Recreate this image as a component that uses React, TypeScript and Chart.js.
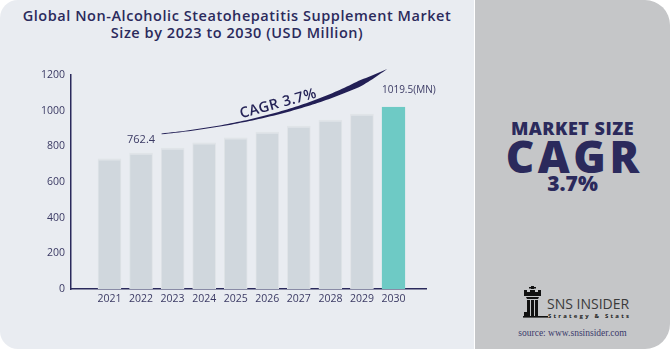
import React, { useEffect, useRef } from "react";
import { Chart, registerables } from "chart.js";

Chart.register(...registerables);

const years = [2021, 2022, 2023, 2024, 2025, 2026, 2027, 2028, 2029, 2030];
const marketValues = [730, 762.4, 790, 819, 848, 880, 913, 947, 981, 1019.5];
const valueLabels = ["", "762.4", "", "", "", "", "", "", "", "1019.5(MN)"];
const yTickValues = [0, 200, 400, 600, 800, 1000, 1200];
const titleLines = [
  "Global Non-Alcoholic Steatohepatitis Supplement Market",
  "Size by 2023 to 2030 (USD Million)",
];
const cagrLabel = "CAGR 3.7%";
// CAGR swoosh anchor points in data coordinates [year, value]
const cagrArrowFrom = [2022.65, 870];
const cagrArrowCtrl = [2027.05, 948];
const cagrArrowTo = [2029.8, 1234];

const NAVY = "#2b2a5c";
const TEXT = "#3b3a64";
const GRAY_BAR = "#d0d7dd";
const GRAY_EDGE = "#e0e4e8";
const TEAL = "#6ecac5";
const FONT = '"Open Sans", "DejaVu Sans", sans-serif';

const annotatePlugin = {
  id: "annotate",
  afterDatasetsDraw(chart: any) {
    const ctx = chart.ctx;
    const meta = chart.getDatasetMeta(0);
    const xs = chart.scales.x;
    const ys = chart.scales.y;
    const last = years.length - 1;
    ctx.save();
    ctx.fillStyle = TEXT;
    ctx.textBaseline = "middle";
    meta.data.forEach((bar: any, i: number) => {
      const t = valueLabels[i];
      if (!t) return;
      if (i === last) {
        ctx.font = `10px ${FONT}`;
        ctx.textAlign = "left";
        ctx.fillText(t, bar.x - bar.width / 2, bar.y - 17);
      } else {
        ctx.font = `11px ${FONT}`;
        ctx.textAlign = "center";
        ctx.fillText(t, bar.x, bar.y - 13);
      }
    });

    // CAGR swoosh
    const P0 = [xs.getPixelForValue(cagrArrowFrom[0]), ys.getPixelForValue(cagrArrowFrom[1])];
    const P1 = [xs.getPixelForValue(cagrArrowCtrl[0]), ys.getPixelForValue(cagrArrowCtrl[1])];
    const P2 = [xs.getPixelForValue(cagrArrowTo[0]), ys.getPixelForValue(cagrArrowTo[1])];
    const pt = (t: number) => {
      const a = (1 - t) * (1 - t), b = 2 * t * (1 - t), c = t * t;
      return [a * P0[0] + b * P1[0] + c * P2[0], a * P0[1] + b * P1[1] + c * P2[1]];
    };
    const tan = (t: number) => {
      const dx = 2 * (1 - t) * (P1[0] - P0[0]) + 2 * t * (P2[0] - P1[0]);
      const dy = 2 * (1 - t) * (P1[1] - P0[1]) + 2 * t * (P2[1] - P1[1]);
      const l = Math.hypot(dx, dy);
      return [dx / l, dy / l];
    };
    const width = (t: number) => {
      if (t < 0.85) return 0.8 + 5.2 * Math.pow(t / 0.85, 2);
      return 6 * (1 - t) / 0.15;
    };
    const N = 80;
    const upper: number[][] = [];
    const lower: number[][] = [];
    for (let i = 0; i <= N; i++) {
      const t = i / N;
      const p = pt(t);
      const d = tan(t);
      const n = [d[1], -d[0]];
      const w = width(t) / 2;
      upper.push([p[0] + n[0] * w, p[1] + n[1] * w]);
      lower.push([p[0] - n[0] * w, p[1] - n[1] * w]);
    }
    ctx.beginPath();
    ctx.moveTo(upper[0][0], upper[0][1]);
    upper.forEach((q) => ctx.lineTo(q[0], q[1]));
    for (let i = lower.length - 1; i >= 0; i--) ctx.lineTo(lower[i][0], lower[i][1]);
    ctx.closePath();
    ctx.fillStyle = "#221f55";
    ctx.fill();

    const tt = 0.47;
    const p = pt(tt);
    const d = tan(tt);
    const n = [d[1], -d[0]];
    const off = 9;
    ctx.translate(p[0] + n[0] * off, p[1] + n[1] * off);
    ctx.rotate(Math.atan2(d[1], d[0]));
    ctx.font = `600 14.5px ${FONT}`;
    ctx.fillStyle = "#252357";
    ctx.textAlign = "center";
    ctx.textBaseline = "middle";
    try {
      (ctx as any).letterSpacing = "0.4px";
    } catch (e) {}
    ctx.fillText(cagrLabel, 0, 0);
    ctx.restore();
  },
};

function ChartPanel() {
  const ref = useRef<HTMLCanvasElement | null>(null);
  useEffect(() => {
    if (!ref.current) return;
    const last = years.length - 1;
    const chart = new Chart(ref.current, {
      type: "bar",
      data: {
        datasets: [
          {
            data: years.map((y, i) => ({ x: y, y: marketValues[i] })) as any,
            backgroundColor: years.map((_, i) => (i === last ? TEAL : GRAY_BAR)),
            borderColor: years.map((_, i) => (i === last ? TEAL : GRAY_EDGE)),
            borderWidth: { top: 2, left: 1, right: 1, bottom: 0 } as any,
            borderSkipped: "start",
            barThickness: 23,
          },
        ],
      },
      options: {
        animation: false,
        responsive: true,
        maintainAspectRatio: false,
        layout: { padding: { left: 0, right: 48, top: 75, bottom: 0 } },
        plugins: {
          legend: { display: false },
          tooltip: { enabled: false },
          title: { display: false },
        },
        scales: {
          x: {
            type: "linear",
            min: 2019.78,
            max: 2031.03,
            offset: false,
            grid: { display: false, drawTicks: false, offset: false },
            border: { display: true, color: NAVY, width: 1.5 },
            ticks: {
              color: TEXT,
              font: { family: FONT, size: 10.5 },
              padding: 4,
              autoSkip: false,
              maxRotation: 0,
              callback: (v: any) => String(v),
            },
            afterBuildTicks: (s: any) => {
              s.ticks = years.map((v) => ({ value: v }));
            },
            afterFit: (s: any) => {
              s.height = 60;
            },
          },
          y: {
            min: 0,
            max: 1200,
            grid: { display: false, drawTicks: false },
            border: { display: true, color: NAVY, width: 1.5 },
            ticks: {
              color: TEXT,
              font: { family: FONT, size: 10.5 },
              padding: 6,
              callback: (v: any) => String(v),
            },
            afterBuildTicks: (s: any) => {
              s.ticks = yTickValues.map((v) => ({ value: v }));
            },
            afterFit: (s: any) => {
              s.width = 71;
            },
          },
        },
      } as any,
      plugins: [annotatePlugin],
    });
    return () => chart.destroy();
  }, []);
  return <canvas ref={ref} />;
}

function RookIcon() {
  return (
    <svg width="26" height="34" viewBox="0 0 26 34" style={{ position: "absolute", left: 522, top: 286 }}>
      <rect x="9" y="0" width="3" height="3" fill="#111" />
      <rect x="7" y="1" width="7" height="1.5" fill="#111" />
      <path d="M2 4 L5 4 L5 6 L8 6 L8 4 L13 4 L13 6 L16 6 L16 4 L19 4 L19 10 L2 10 Z" fill="#111" />
      <path d="M4 11 L17 11 L16 13 L5 13 Z" fill="#111" />
      <rect x="5" y="14" width="3" height="16" fill="#111" />
      <rect x="9" y="14" width="3" height="16" fill="#111" />
      <rect x="13" y="14" width="3" height="16" fill="#111" />
      <rect x="1" y="30" width="25" height="1.6" fill="#111" />
      <rect x="2" y="26" width="3" height="4" fill="#111" />
    </svg>
  );
}

export default function App() {
  useEffect(() => {
    document.body.style.margin = "0";
  }, []);
  return (
    <div style={{ position: "relative", width: 670, height: 350, background: "#ffffff", overflow: "hidden" }}>
      <div
        style={{
          position: "absolute",
          left: 0,
          top: 0,
          width: 474,
          height: 349,
          background: "#e9ecf1",
          borderRadius: "18px 0 0 18px",
        }}
      />
      <div
        style={{
          position: "absolute",
          left: 475,
          top: 0,
          width: 195,
          height: 349,
          background: "#c5c6c8",
          borderRadius: "0 25px 25px 0",
        }}
      />
      <div
        style={{
          position: "absolute",
          left: 0,
          top: 7.1,
          width: 474,
          textAlign: "center",
          fontFamily: FONT,
          fontWeight: 600,
          fontSize: 14.5,
          lineHeight: "17px",
          color: NAVY,
          letterSpacing: 0.55,
          whiteSpace: "nowrap",
        }}
      >
        {titleLines.map((l, i) => (
          <div key={i}>{l}</div>
        ))}
      </div>
      <div style={{ position: "absolute", left: 0, top: 0, width: 474, height: 349 }}>
        <ChartPanel />
      </div>
      <div
        style={{
          position: "absolute",
          left: 475,
          width: 195,
          top: 118.5,
          textAlign: "center",
          fontFamily: FONT,
          fontWeight: 800,
          fontSize: 18,
          lineHeight: "18px",
          color: NAVY,
          letterSpacing: 0.5,
          whiteSpace: "nowrap",
        }}
      >
        MARKET SIZE
      </div>
      <div
        style={{
          position: "absolute",
          left: 475,
          width: 195,
          top: 133.7,
          paddingLeft: 3.5,
          boxSizing: "border-box",
          textAlign: "center",
          fontFamily: FONT,
          fontWeight: 800,
          fontSize: 44,
          lineHeight: "44px",
          color: NAVY,
          letterSpacing: 3.5,
          whiteSpace: "nowrap",
        }}
      >
        CAGR
      </div>
      <div
        style={{
          position: "absolute",
          left: 475,
          width: 195,
          top: 172.9,
          textAlign: "center",
          fontFamily: FONT,
          fontWeight: 800,
          fontSize: 21,
          lineHeight: "21px",
          color: NAVY,
          whiteSpace: "nowrap",
        }}
      >
        3.7%
      </div>
      <RookIcon />
      <div
        style={{
          position: "absolute",
          left: 547,
          top: 297,
          fontFamily: FONT,
          fontSize: 14,
          lineHeight: "14px",
          color: "#3a3a3a",
          whiteSpace: "nowrap",
        }}
      >
        SNS INSIDER
      </div>
      <div
        style={{
          position: "absolute",
          left: 548,
          top: 313,
          fontFamily: FONT,
          fontSize: 6,
          lineHeight: "7px",
          fontWeight: 700,
          color: "#222",
          letterSpacing: 2.2,
          whiteSpace: "nowrap",
        }}
      >
        Strategy &amp; Stats
      </div>
      <div
        style={{
          position: "absolute",
          left: 475,
          width: 195,
          top: 327,
          textAlign: "center",
          fontFamily: '"Liberation Serif", "DejaVu Serif", serif',
          fontSize: 9.5,
          lineHeight: "12px",
          color: "#3a3a6a",
          whiteSpace: "nowrap",
        }}
      >
        source: www.snsinsider.com
      </div>
    </div>
  );
}
